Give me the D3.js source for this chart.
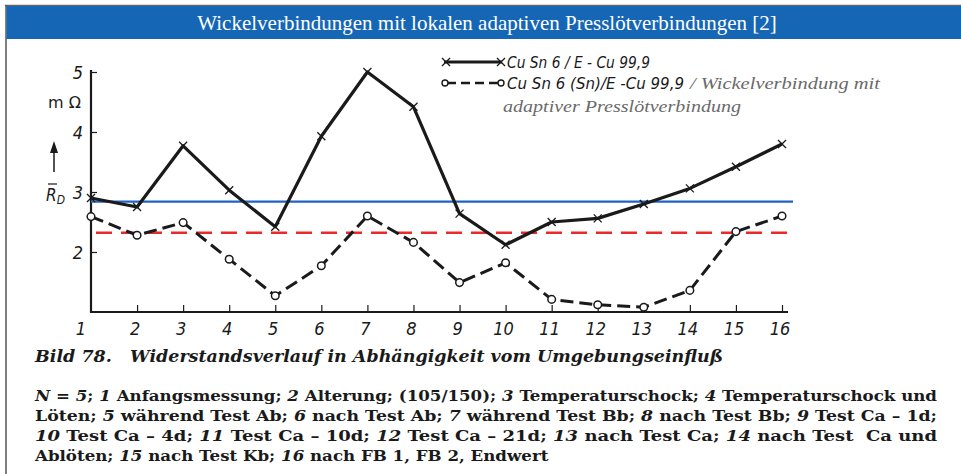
<!DOCTYPE html>
<html><head><meta charset="utf-8">
<script src="https://cdn.jsdelivr.net/npm/d3@7"></script>
<style>
html,body{margin:0;padding:0;background:#fff;}
svg{display:block;}
</style></head>
<body>
<svg id="c" width="961" height="474"></svg>
<script>
const title = "Wickelverbindungen mit lokalen adaptiven Presslötverbindungen [2]";
const positions = [1,2,3,4,5,6,7,8,9,10,11,12,13,14,15,16];
const solidSeries = [2.9,2.75,3.77,3.03,2.42,3.93,5.0,4.42,2.64,2.12,2.5,2.56,2.8,3.06,3.42,3.8];
const dashedSeries = [2.59,2.28,2.49,1.88,1.27,1.77,2.6,2.16,1.49,1.82,1.21,1.12,1.08,1.36,2.34,2.6];
const blueLevel = 2.84;
const redLevel = 2.32;
const yTicks = [2,3,4,5];
const xTicks = [1,2,3,4,5,6,7,8,9,10,11,12,13,14,15,16];
const legend1 = "Cu Sn 6 / E - Cu 99,9";
const legend2a = "Cu Sn 6 (Sn)/E -Cu 99,9";
const legend2b = "/ Wickelverbindung mit";
const legend2c = "adaptiver Presslötverbindung";
const captionTitle = ["Bild 78.", "Widerstandsverlauf in Abhängigkeit vom Umgebungseinfluß"];
const captionLines = [
  [["N"," = "],["5",";"],["1"," Anfangsmessung;"],["2"," Alterung; (105/150);"],["3"," Temperaturschock;"],["4"," Temperaturschock und"]],
  [["","Löten;"],["5"," während Test Ab;"],["6"," nach Test Ab;"],["7"," während Test Bb;"],["8"," nach Test Bb;"],["9"," Test Ca – 1d;"]],
  [["10"," Test Ca – 4d;"],["11"," Test Ca – 10d;"],["12"," Test Ca – 21d;"],["13"," nach Test Ca;"],["14"," nach Test\u00a0 Ca und"]],
  [["","Ablöten;"],["15"," nach Test Kb;"],["16"," nach FB 1, FB 2, Endwert"]]
];

const svg = d3.select("#c");

// frame
svg.append("rect").attr("x",0).attr("y",0).attr("width",961).attr("height",474).attr("fill","#fff");
svg.append("line").attr("x1",5).attr("x2",961).attr("y1",5.5).attr("y2",5.5).attr("stroke","#666").attr("stroke-width",1.5);
svg.append("line").attr("x1",6).attr("x2",6).attr("y1",5).attr("y2",474).attr("stroke","#555").attr("stroke-width",1.5);
svg.append("rect").attr("x",6.5).attr("y",6).attr("width",955).attr("height",33).attr("fill","#1666b6");
svg.append("text").attr("x",487).attr("y",30).attr("text-anchor","middle")
  .attr("font-family","Liberation Serif").attr("font-size",21).attr("fill","#fff").text(title);

const x = d3.scaleLinear().domain([1,16]).range([91,782]);
const y = d3.scaleLinear().domain([1,5]).range([312,72]);

const ink = "#1a1a1a";
const tickFont = "DejaVu Sans Condensed";

// axes
const g = svg.append("g");
g.append("line").attr("x1",x(1)).attr("x2",788).attr("y1",y(1)).attr("y2",y(1)).attr("stroke",ink).attr("stroke-width",2.2);
g.append("line").attr("x1",x(1)).attr("x2",x(1)).attr("y1",y(1)+1).attr("y2",70).attr("stroke",ink).attr("stroke-width",2.2);

const yAxis = d3.axisRight(y).tickValues(yTicks).tickSize(6).tickFormat("");
const ya = g.append("g").attr("transform",`translate(${x(1)},0)`).call(yAxis);
ya.select(".domain").remove();
ya.selectAll("line").attr("stroke",ink).attr("stroke-width",1.2);
g.selectAll(".ylab").data(yTicks).enter().append("text")
  .attr("x",83).attr("y",d=>y(d)+7).attr("text-anchor","end")
  .attr("font-family",tickFont).attr("font-style","italic").attr("font-size",18).attr("fill",ink)
  .text(d=>d);

const xAxis = d3.axisTop(x).tickValues(xTicks.slice(1)).tickSize(7).tickFormat("");
const xa = g.append("g").attr("transform",`translate(0,${y(1)})`).call(xAxis);
xa.select(".domain").remove();
xa.selectAll("line").attr("stroke",ink).attr("stroke-width",1.2);
g.selectAll(".xlab").data(xTicks).enter().append("text")
  .attr("x",d=>x(d)-(d===1?10:2)).attr("y",335).attr("text-anchor","middle")
  .attr("font-family",tickFont).attr("font-style","italic").attr("font-size",18).attr("fill",ink)
  .text(d=>d);

// unit label and arrow
g.append("text").attr("x",48).attr("y",108).attr("font-family","DejaVu Sans").attr("font-size",16).attr("fill",ink).text("m Ω");
g.append("line").attr("x1",54).attr("x2",54).attr("y1",172).attr("y2",150).attr("stroke",ink).attr("stroke-width",1.5);
g.append("path").attr("d","M54,141 L50,153 L58,153 Z").attr("fill",ink);
const rd = g.append("text").attr("x",46).attr("y",201).attr("font-family",tickFont).attr("font-style","italic").attr("font-size",17).attr("fill",ink);
rd.append("tspan").text("R");
rd.append("tspan").attr("font-size",12).attr("dy",3).text("D");
g.append("line").attr("x1",48).attr("x2",57).attr("y1",184).attr("y2",184).attr("stroke",ink).attr("stroke-width",1.2);

// reference lines
g.append("line").attr("x1",x(1)).attr("x2",793).attr("y1",y(blueLevel)).attr("y2",y(blueLevel)).attr("stroke","#1f63c6").attr("stroke-width",2.4);
g.append("line").attr("x1",96).attr("x2",792).attr("y1",y(redLevel)).attr("y2",y(redLevel)).attr("stroke","#ea2a2a").attr("stroke-width",2.5).attr("stroke-dasharray","16,9");

// series
const line = d3.line().x((d,i)=>x(positions[i])).y(d=>y(d));
g.append("path").datum(solidSeries).attr("d",line).attr("fill","none").attr("stroke",ink).attr("stroke-width",3.2).attr("stroke-linejoin","round");
g.append("path").datum(dashedSeries).attr("d",line).attr("fill","none").attr("stroke",ink).attr("stroke-width",3).attr("stroke-dasharray","13,6");

const cross = (sel, cx, cy) => {
  sel.append("path").attr("d",`M${cx-4},${cy-4}L${cx+4},${cy+4}M${cx-4},${cy+4}L${cx+4},${cy-4}`).attr("stroke",ink).attr("stroke-width",1.3).attr("fill","none");
};
solidSeries.forEach((v,i)=>cross(g, x(positions[i]), y(v)));
g.selectAll(".dot").data(dashedSeries).enter().append("circle")
  .attr("cx",(d,i)=>x(positions[i])).attr("cy",d=>y(d)).attr("r",3.8)
  .attr("fill","#fff").attr("stroke",ink).attr("stroke-width",1.5);

// legend
const lg = svg.append("g");
lg.append("line").attr("x1",444).attr("x2",502).attr("y1",62).attr("y2",62).attr("stroke",ink).attr("stroke-width",2.8);
cross(lg,446,62); cross(lg,501,62);
lg.append("line").attr("x1",447).attr("x2",500).attr("y1",83).attr("y2",83).attr("stroke",ink).attr("stroke-width",2.5).attr("stroke-dasharray","9,5");
lg.append("circle").attr("cx",445).attr("cy",83).attr("r",3).attr("fill","#fff").attr("stroke",ink).attr("stroke-width",1.4);
lg.append("circle").attr("cx",501).attr("cy",83).attr("r",3).attr("fill","#fff").attr("stroke",ink).attr("stroke-width",1.4);
lg.append("text").attr("x",507).attr("y",68).attr("font-family",tickFont).attr("font-style","italic").attr("font-size",15).attr("fill",ink)
  .attr("textLength",143).attr("lengthAdjust","spacingAndGlyphs").text(legend1);
lg.append("text").attr("x",507).attr("y",89).attr("font-family",tickFont).attr("font-style","italic").attr("font-size",15).attr("fill",ink)
  .attr("textLength",177).attr("lengthAdjust","spacingAndGlyphs").text(legend2a);
lg.append("text").attr("x",690).attr("y",89).attr("font-family","Liberation Serif").attr("font-style","italic").attr("font-size",16).attr("fill","#6a6a6a")
  .attr("textLength",190).attr("lengthAdjust","spacingAndGlyphs").text(legend2b);
lg.append("text").attr("x",503).attr("y",112).attr("font-family","Liberation Serif").attr("font-style","italic").attr("font-size",17).attr("fill","#6a6a6a")
  .attr("textLength",238).attr("lengthAdjust","spacingAndGlyphs").text(legend2c);

// caption
const cap = svg.append("text").attr("x",35).attr("y",362).attr("font-family","DejaVu Serif").attr("font-style","italic").attr("font-weight","bold")
  .attr("font-size",17).attr("fill",ink).attr("textLength",688).attr("lengthAdjust","spacingAndGlyphs");
cap.append("tspan").text(captionTitle[0]);
cap.append("tspan").text("\u00a0\u00a0\u00a0" + captionTitle[1]);

const lineY = [401,421,441,461];
const texts = captionLines.map((parts,li)=>{
  const t = svg.append("text").attr("x",35).attr("y",lineY[li]).attr("font-family","DejaVu Serif").attr("font-weight","bold")
    .attr("font-size",15).attr("fill",ink);
  parts.forEach((p,pi)=>{
    const sep = pi>0 ? " " : "";
    if (p[0]!=="") t.append("tspan").attr("font-style","italic").text(sep + p[0]);
    else if (sep) t.append("tspan").text(sep);
    t.append("tspan").text(p[1]);
  });
  return t;
});
const target = 902;
const ratios = [];
texts.slice(0,3).forEach(t=>{
  const w = t.node().getComputedTextLength();
  ratios.push(target/w);
  t.attr("textLength",target).attr("lengthAdjust","spacingAndGlyphs");
});
const r = Math.min(...ratios);
const wLast = texts[3].node().getComputedTextLength();
texts[3].attr("textLength",wLast*r).attr("lengthAdjust","spacingAndGlyphs");
</script>
</body></html>
